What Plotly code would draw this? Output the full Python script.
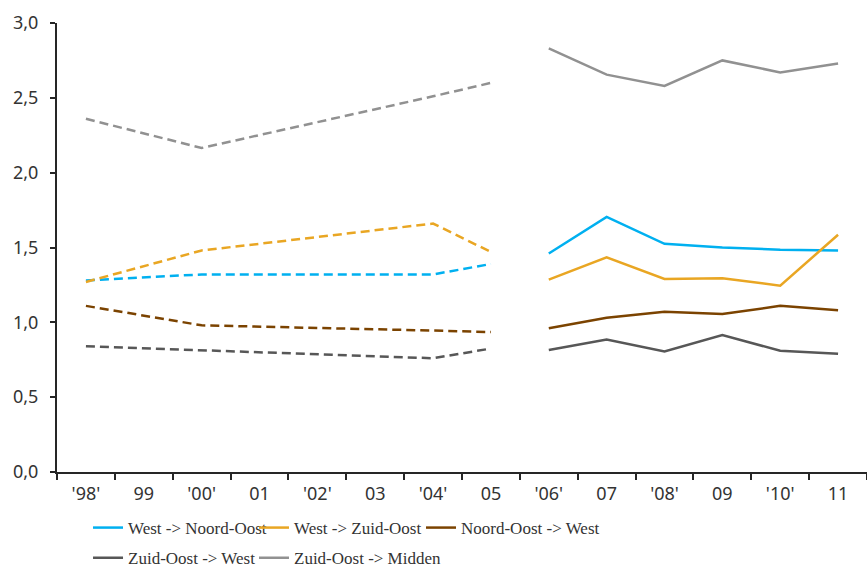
import plotly.graph_objects as go

categories = ["'98'", "99", "'00'", "01", "'02'", "03", "'04'", "05",
              "'06'", "07", "'08'", "09", "'10'", "11"]

series_names = ["West -> Noord-Oost", "West -> Zuid-Oost", "Noord-Oost -> West",
                "Zuid-Oost -> West", "Zuid-Oost -> Midden"]
colors = ["#00B0F0", "#E9A623", "#7B4300", "#575757", "#919191"]

# values 1998-2005 (dashed, estimated years with gaps)
west_noordoost_old = [1.28, None, 1.32, None, None, None, 1.32, 1.39]
west_zuidoost_old = [1.27, None, 1.48, None, None, None, 1.66, 1.47]
noordoost_west_old = [1.11, None, 0.98, None, None, None, 0.945, 0.935]
zuidoost_west_old = [0.84, None, 0.815, None, None, None, 0.76, 0.825]
zuidoost_midden_old = [2.36, None, 2.165, None, None, None, 2.51, 2.60]

# values 2006-2011 (solid)
west_noordoost_new = [1.46, 1.705, 1.525, 1.50, 1.485, 1.48]
west_zuidoost_new = [1.285, 1.435, 1.29, 1.295, 1.245, 1.585]
noordoost_west_new = [0.96, 1.03, 1.07, 1.055, 1.11, 1.08]
zuidoost_west_new = [0.815, 0.885, 0.805, 0.915, 0.81, 0.79]
zuidoost_midden_new = [2.83, 2.655, 2.58, 2.75, 2.67, 2.73]

old_series = [west_noordoost_old, west_zuidoost_old, noordoost_west_old,
              zuidoost_west_old, zuidoost_midden_old]
new_series = [west_noordoost_new, west_zuidoost_new, noordoost_west_new,
              zuidoost_west_new, zuidoost_midden_new]

y_ticks = [0, 0.5, 1.0, 1.5, 2.0, 2.5, 3.0]

TICK_FONT = "Noto Sans"
LEG_FONT = "Liberation Serif"

legend_keys = ["legend", "legend2", "legend3", "legend4", "legend5"]
legend_pos = [(0.0383, -0.0847), (0.2432, -0.0847), (0.4494, -0.0847),
              (0.0383, -0.152), (0.2432, -0.152)]

fig = go.Figure()
for i, name in enumerate(series_names):
    fig.add_trace(go.Scatter(
        x=categories[:8], y=old_series[i], mode="lines", connectgaps=True,
        line=dict(color=colors[i], width=2.5, dash="9px,5px"),
        showlegend=False, hoverinfo="skip"))
for i, name in enumerate(series_names):
    fig.add_trace(go.Scatter(
        x=categories[8:], y=new_series[i], mode="lines", name=name,
        line=dict(color=colors[i], width=2.5),
        legend=legend_keys[i]))

legends = {}
for key, (lx, ly) in zip(legend_keys, legend_pos):
    legends[key] = dict(orientation="h", x=lx, y=ly, xanchor="left", yanchor="top",
                        font=dict(family=LEG_FONT, size=17, color="#333333"),
                        itemwidth=30, bgcolor="rgba(0,0,0,0)")

fig.update_layout(
    width=867, height=569,
    margin=dict(l=57, r=0, t=23, b=97, autoexpand=False),
    plot_bgcolor="white", paper_bgcolor="white",
    separators=",.",
    font=dict(family=TICK_FONT, size=18, color="#333333"),
    xaxis=dict(type="category", categoryorder="array", categoryarray=categories,
               range=[-0.5, 13.5], tickson="boundaries", automargin=False,
               showline=True, linecolor="#262626", linewidth=2,
               ticks="outside", ticklen=6, tickcolor="#262626", tickwidth=1.5,
               ticklabelstandoff=4,
               showgrid=False, zeroline=False,
               tickfont=dict(family=TICK_FONT, size=18, color="#333333")),
    yaxis=dict(range=[0, 3], tickvals=y_ticks, tickformat=".1f", automargin=False,
               showline=True, linecolor="#262626", linewidth=2,
               ticks="outside", ticklen=5, tickcolor="#262626", tickwidth=1.5,
               ticklabelstandoff=8,
               showgrid=False, zeroline=False,
               tickfont=dict(family=TICK_FONT, size=18, color="#333333")),
    **legends,
)

fig.write_html("out.html", config={"displayModeBar": False},
               post_script="document.body.style.margin='0';document.body.style.overflow='hidden';")
